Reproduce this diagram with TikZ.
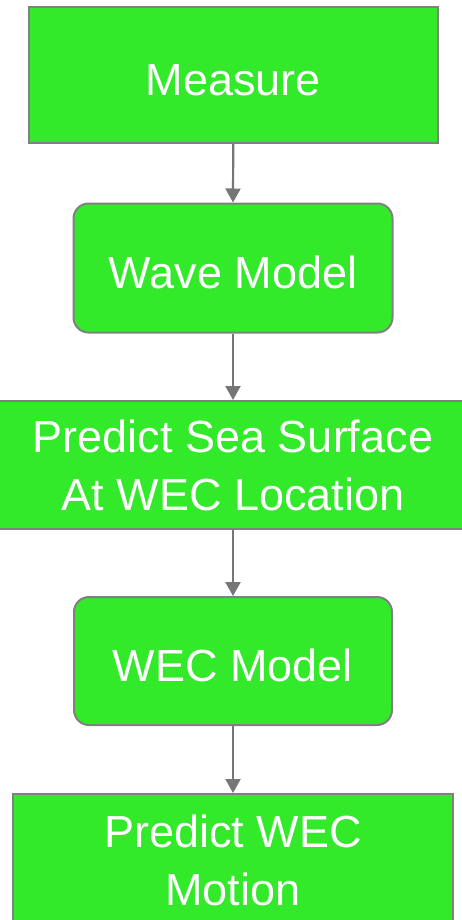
\documentclass[tikz,border=0pt]{standalone}
\usepackage{fontspec}
\setmainfont{Liberation Sans}
\usetikzlibrary{arrows.meta}
\definecolor{boxgreen}{RGB}{50,233,42}
\definecolor{edgegray}{RGB}{128,128,128}
\definecolor{arrgray}{RGB}{118,118,118}
\tikzset{
  box/.style={draw=edgegray, line width=2pt, fill=boxgreen, text=white,
    align=center, inner sep=0pt,
    execute at begin node={\rule{0pt}{41pt}},
    font=\fontsize{45}{58}\selectfont},
  roundbox/.style={box, rounded corners=15pt},
  arr/.style={draw=arrgray, line width=2.2pt, -{Triangle[length=14pt,width=15pt]}}
}
\begin{document}
\begin{tikzpicture}[x=1pt,y=-1pt]
\useasboundingbox (0,0) rectangle (462,920);
\clip (0,0) rectangle (462,920);
\node[box, minimum width=408.5pt, minimum height=135.5pt] (m) at (233.25,75.25) {Measure};
\node[roundbox, minimum width=319pt, minimum height=129pt] (w) at (233,268) {Wave Model};
\node[box, minimum width=470pt, minimum height=128pt] (p) at (233,465) {Predict Sea Surface\\At WEC Location};
\node[roundbox, minimum width=318pt, minimum height=128pt] (e) at (233,661) {WEC Model};
\node[box, minimum width=439.5pt, minimum height=132pt] (q) at (233,860) {Predict WEC\\Motion};
\draw[arr] (m.south) -- (w.north);
\draw[arr] (w.south) -- (p.north);
\draw[arr] (p.south) -- (e.north);
\draw[arr] (e.south) -- (q.north);
\end{tikzpicture}
\end{document}
